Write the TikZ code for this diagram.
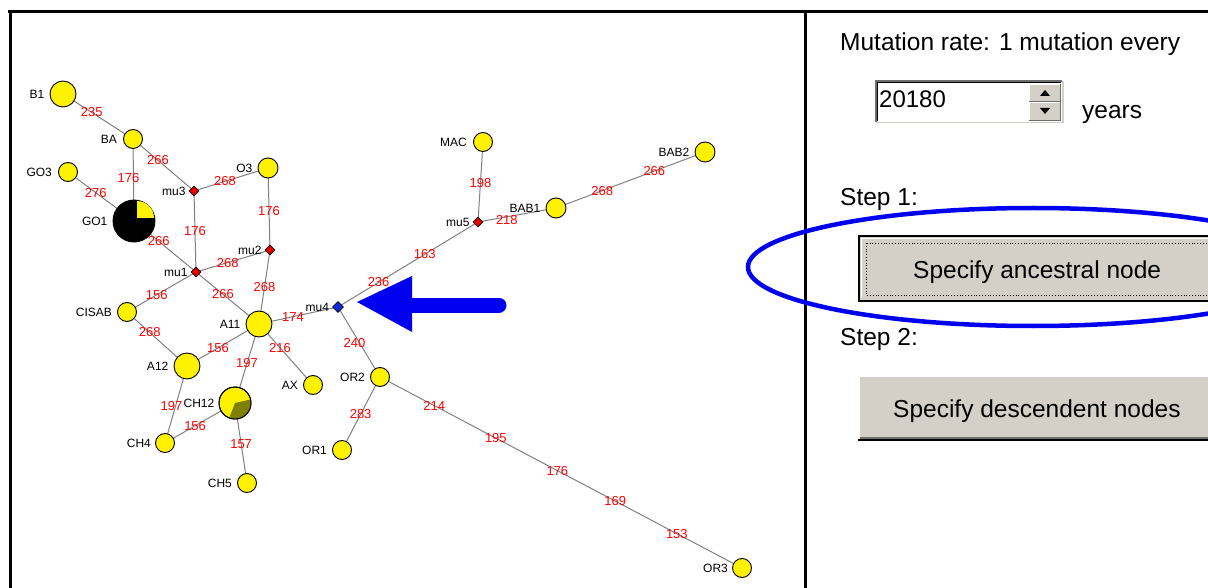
\documentclass[tikz,border=0pt]{standalone}
\usepackage{fontspec}
\setmainfont{Liberation Sans}
\usetikzlibrary{shapes.geometric}
\pgfdeclarelayer{background}
\pgfsetlayers{background,main}
\definecolor{edgegray}{RGB}{128,128,128}
\definecolor{btngray}{RGB}{212,208,200}
\definecolor{olivec}{RGB}{128,128,0}
\definecolor{mured}{RGB}{235,0,0}
\definecolor{mublue}{RGB}{20,40,230}
\definecolor{bigblue}{RGB}{0,0,240}
\definecolor{darkedge}{RGB}{110,110,110}
\begin{document}
\begin{tikzpicture}[x=1pt,y=-1pt,
  hap/.style={circle,fill=yellow,draw=black,line width=0.9pt,inner sep=0pt,minimum size=#1},
  hap/.default=19pt,
  mut/.style={diamond,fill=mured,draw=black,line width=0.6pt,inner sep=0pt,minimum size=10pt},
  nm/.style={font=\fontsize{12}{12}\selectfont,text=black,inner sep=0pt},
  lk/.style={draw=edgegray,line width=1pt},
  mw/.style={font=\fontsize{13}{13}\selectfont,text=red,inner sep=0pt},
  ui/.style={font=\fontsize{24.5}{29}\selectfont,inner sep=0pt,anchor=base west},
  frame/.style={draw=black,line width=3pt},
]
\useasboundingbox (0,0) rectangle (1208,588);
\clip (0,0) rectangle (1208,588);

% ---------- haplotype nodes ----------
\node[hap=26pt,label={[nm,label distance=5pt]left:B1}] (B1) at (63,94) {};
\node[hap,label={[nm,label distance=6pt]left:BA}] (BA) at (133,139) {};
\node[hap,label={[nm,label distance=6pt]left:GO3}] (GO3) at (68,172) {};
\node[hap=42pt,fill=black,label={[nm,label distance=5pt]left:GO1}] (GO1) at (134,221) {};
\fill[yellow] (137,218) -- (137,201) arc[start angle=-90,end angle=0,radius=17] -- cycle;
\node[mut,label={[nm,label distance=3pt]left:mu3}] (mu3) at (194,191) {};
\node[hap=20pt,label={[nm,label distance=5pt]left:O3}] (O3) at (268,168) {};
\node[mut,label={[nm,label distance=3pt]left:mu2}] (mu2) at (270,250) {};
\node[mut,label={[nm,label distance=3pt]left:mu1}] (mu1) at (196,272) {};
\node[hap,label={[nm,label distance=5pt]left:CISAB}] (CISAB) at (127,312) {};
\node[hap=26pt,label={[nm,label distance=5pt]left:A11}] (A11) at (259,324) {};
\node[hap=26pt,label={[nm,label distance=5pt]left:A12}] (A12) at (187,366) {};
\node[hap=32pt,label={[nm,label distance=4pt]left:CH12}] (CH12) at (235,403) {};
\fill[olivec] (235,403) -- ++(-13:15.5) arc[start angle=-13,end angle=111,radius=15.5] -- cycle;
\draw[line width=0.9pt] (CH12.center) circle[radius=16];
\node[hap,label={[nm,label distance=5pt]left:AX}] (AX) at (313,385) {};
\node[hap,label={[nm,label distance=4pt]left:CH4}] (CH4) at (165,443) {};
\node[hap,label={[nm,label distance=5pt]left:CH5}] (CH5) at (247,483) {};
\node[mut,fill=mublue,minimum size=11pt,label={[nm,label distance=3pt]left:mu4}] (mu4) at (338,307) {};
\node[hap,label={[nm,label distance=5pt]left:OR2}] (OR2) at (380,377) {};
\node[hap,label={[nm,label distance=5pt]left:OR1}] (OR1) at (342,450) {};
\node[hap,label={[nm,label distance=4pt]left:OR3}] (OR3) at (742,568) {};
\node[mut,label={[nm,label distance=3pt]left:mu5}] (mu5) at (478,222) {};
\node[hap,label={[nm,label distance=6pt]left:MAC}] (MAC) at (483,142) {};
\node[hap=20pt,label={[nm,label distance=5pt]left:BAB1}] (BAB1) at (556,208) {};
\node[hap=20pt,label={[nm,label distance=5pt]left:BAB2}] (BAB2) at (705,152) {};

% ---------- links ----------
\begin{pgfonlayer}{background}
\draw[lk] (B1.center) -- node[mw,pos=.41]{235} (BA.center);
\draw[lk] (BA.center) -- node[mw,pos=.41]{266} (mu3.center);
\draw[lk] (BA.center) -- node[mw,pos=.48,xshift=-5pt]{176} (GO1.center);
\draw[lk] (GO3.center) -- node[mw,pos=.42]{276} (GO1.center);
\draw[lk] (GO1.center) -- node[mw,pos=.40]{266} (mu1.center);
\draw[lk] (mu3.center) -- node[mw,pos=.42]{268} (O3.center);
\draw[lk] (mu3.center) -- node[mw,pos=.49]{176} (mu1.center);
\draw[lk] (O3.center) -- node[mw,pos=.52]{176} (mu2.center);
\draw[lk] (mu1.center) -- node[mw,pos=.43]{268} (mu2.center);
\draw[lk] (mu2.center) -- node[mw,pos=.50]{268} (A11.center);
\draw[lk] (mu1.center) -- node[mw,pos=.43]{266} (A11.center);
\draw[lk] (mu1.center) -- node[mw,pos=.57]{156} (CISAB.center);
\draw[lk] (CISAB.center) -- node[mw,pos=.38]{268} (A12.center);
\draw[lk] (A12.center) -- node[mw,pos=.43]{156} (A11.center);
\draw[lk] (A11.center) -- node[mw,pos=.50]{197} (CH12.center);
\draw[lk] (A11.center) -- node[mw,pos=.39]{216} (AX.center);
\draw[lk] (A11.center) -- node[mw,pos=.43]{174} (mu4.center);
\draw[lk] (A12.center) -- node[mw,pos=.52,xshift=-4pt]{197} (CH4.center);
\draw[lk] (CH12.center) -- node[mw,pos=.57]{156} (CH4.center);
\draw[lk] (CH12.center) -- node[mw,pos=.51]{157} (CH5.center);
\draw[lk] (mu4.center) -- node[mw,pos=.29]{236} node[mw,pos=.62]{163} (mu5.center);
\draw[lk] (mu5.center) -- node[mw,pos=.49]{198} (MAC.center);
\draw[lk] (mu5.center) -- node[mw,pos=.37,yshift=-3pt]{218} (BAB1.center);
\draw[lk] (BAB1.center) -- node[mw,pos=.31]{268} node[mw,pos=.66]{266} (BAB2.center);
\draw[lk] (mu4.center) -- node[mw,pos=.51,xshift=-5pt]{240} (OR2.center);
\draw[lk] (OR2.center) -- node[mw,pos=.51]{283} (OR1.center);
\draw[lk] (OR2.center) -- node[mw,pos=.15]{214} node[mw,pos=.32]{195}
  node[mw,pos=.49]{176} node[mw,pos=.65]{169} node[mw,pos=.82]{153} (OR3.center);
\end{pgfonlayer}

% ---------- blue arrow pointing at mu4 ----------
\coordinate (arrowtip) at (357,302);
\draw[bigblue,line width=15pt,line cap=round] (405,305) -- (499,305);
\fill[bigblue] (arrowtip) -- (412,276) -- (412,332) -- cycle;

% ---------- frame ----------
\draw[frame] (8,12) -- (1215,12);
\draw[frame] (10,10.5) -- (10,595);
\draw[frame] (805,10.5) -- (805,595);

% ---------- right panel ----------
\node[ui] (rate) at (840,51) {Mutation rate: 1 mutation every};
% spin box
\fill[white] (876,81) rectangle (1062,122);
\draw[darkedge,line width=1.2pt] (876,122) -- (876,81) -- (1062,81);
\draw[black,line width=1.2pt] (877.5,121) -- (877.5,82.5) -- (1061,82.5);
\draw[btngray,line width=1.2pt] (876,122.5) -- (1063,122.5) -- (1063,81);
\fill[btngray] (1029,84) rectangle (1061,102);
\fill[btngray] (1029,102) rectangle (1061,121);
\draw[white,line width=1pt] (1029.5,101) -- (1029.5,84.5) -- (1060,84.5);
\draw[white,line width=1pt] (1029.5,120) -- (1029.5,102.5) -- (1060,102.5);
\draw[darkedge,line width=1.2pt] (1029,101.5) -- (1060.5,101.5) -- (1060.5,84);
\draw[darkedge,line width=1.2pt] (1029,120.5) -- (1060.5,120.5) -- (1060.5,102);
\fill[black] (1040,96) -- (1050,96) -- (1045,90) -- cycle;
\fill[black] (1040,108) -- (1050,108) -- (1045,114) -- cycle;
\node[ui,font=\fontsize{24}{29}\selectfont] (rateval) at (879,108) {20180};
\node[ui] (years) at (1082,119) {years};

\node[ui] (step1) at (840,206) {Step 1:};
% button 1 (focused)
\fill[btngray] (858,235) rectangle (1225,302);
\draw[black,line width=2pt] (859,236) rectangle (1225,301);
\draw[white,line width=1pt] (861.5,298) -- (861.5,238.5) -- (1225,238.5);
\draw[black,line width=0.8pt,dotted] (866,243) rectangle (1225,295);
\node[ui] (btn1) at (913,279) {Specify ancestral node};

\node[ui] (step2) at (840,345) {Step 2:};
% button 2
\fill[btngray] (858,375) rectangle (1225,440);
\draw[white,line width=1.5pt] (858.75,439) -- (858.75,375.75) -- (1225,375.75);
\draw[darkedge,line width=1.2pt] (860,438) -- (1225,438);
\draw[black,line width=1.2pt] (858,440) -- (1225,440);
\node[ui] (btn2) at (893,417) {Specify descendent nodes};

% ---------- blue ellipse ----------
\draw[bigblue,line width=4.5pt] (1033,267) ellipse[x radius=285,y radius=59];
\end{tikzpicture}
\end{document}
